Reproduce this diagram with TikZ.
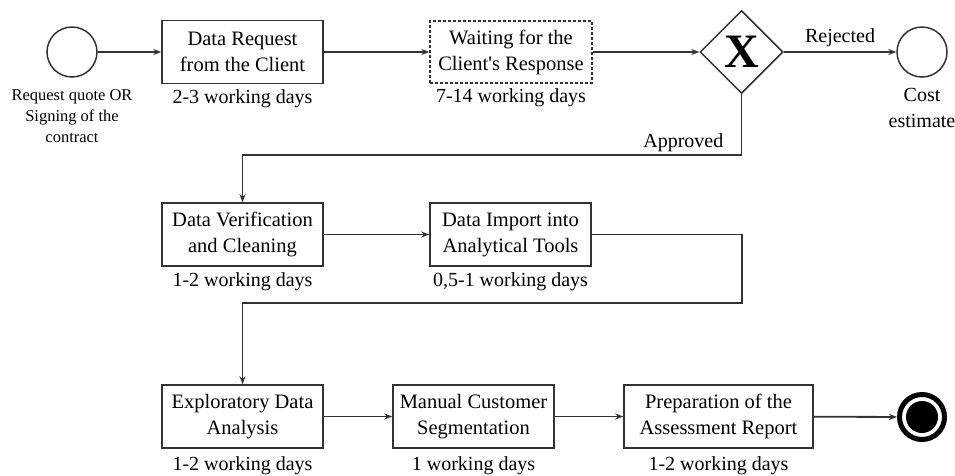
\documentclass[tikz,border=0pt]{standalone}
\usepackage{fontspec}
\setmainfont{Liberation Serif}
\usetikzlibrary{shapes.geometric,arrows.meta,positioning}
\begin{document}
\begin{tikzpicture}[x=1pt,y=-1pt,>={Stealth[length=8pt,width=6pt]}]
	\tikzstyle{task}=[rectangle,draw=black!80,line width=1.5pt,fill=white,minimum width=161pt,minimum height=63pt,inner sep=0pt,align=center,font=\fontsize{20.5}{26}\selectfont]
	\tikzstyle{waittask}=[task,dash pattern=on 3pt off 2pt]
	\tikzstyle{event}=[circle,draw=black!80,line width=1.5pt,minimum size=50pt,inner sep=0pt]
	\tikzstyle{gate}=[diamond,draw=black!80,line width=1.5pt,minimum width=83pt,minimum height=83pt,inner sep=0pt,font=\fontsize{48}{48}\selectfont\bfseries]
	\tikzstyle{dur}=[inner sep=0pt,font=\fontsize{20}{26}\selectfont]
	\tikzstyle{lbl}=[inner sep=0pt,align=center,font=\fontsize{20}{26}\selectfont]
	\tikzstyle{note}=[inner sep=0pt,align=center,font=\fontsize{16.5}{21}\selectfont]
	\tikzstyle{edge}=[draw=black!80,line width=1.8pt,->]
	\useasboundingbox (0,0) rectangle (955,475);
	\begin{scope}
	% first row
	  \node [event] (start) at (72,52) {};
	  \node [note,below=12pt of start] (startl) {Request quote OR\\Signing of the\\contract};
	  \node [task] (rq) at (242.5,52) {Data Request\\from the Client};
	  \node [dur,below=5pt of rq] (rqd) {2-3 working days};
	  \node [waittask,minimum width=162pt,minimum height=62pt] (wait) at (511,52) {Waiting for the\\Client\textquotesingle s Response};
	  \node [dur,below=5pt of wait] (waitd) {7-14 working days};
	  \node [gate] (gw) at (741.5,52) {X};
	  \node [event] (cost) at (922,52) {};
	  \node [lbl,below=10pt of cost] (costl) {Cost\\estimate};

	% second row
	  \node [task] (vc) at (242.5,234.5) {Data Verification\\and Cleaning};
	  \node [dur,below=6pt of vc] (vcd) {1-2 working days};
	  \node [task] (imp) at (510.5,234.5) {Data Import into\\Analytical Tools};
	  \node [dur,below=6pt of imp] (impd) {0,5-1 working days};

	% third row
	  \node [task] (ex) at (242.5,416.5) {Exploratory Data\\Analysis};
	  \node [dur,below=8pt of ex] (exd) {1-2 working days};
	  \node [task] (ms) at (473.5,416.5) {Manual Customer\\Segmentation};
	  \node [dur,below=8pt of ms] (msd) {1 working days};
	  \node [task,minimum width=189pt] (rep) at (718.5,416.5) {Preparation of the\\Assessment Report};
	  \node [dur,below=8pt of rep] (repd) {1-2 working days};
	  \node [circle,draw=black,line width=5pt,minimum size=45pt,inner sep=0pt] (fin) at (922,417) {};
	  \node [circle,fill=black,minimum size=32pt,inner sep=0pt] (fincore) at (fin.center) {};

	  \coordinate (ap) at (741.5,155);
	  \coordinate (turn) at (742,303);
	  \node [lbl,anchor=base east] (apl) at ([xshift=-18pt,yshift=8pt]ap) {Approved};

		\draw[edge] (start) -- (rq);
		\draw[edge] (rq) -- (wait);
		\draw[edge] (wait) -- (gw);
		\draw[edge] (gw) -- node[lbl,above=4pt]{Rejected} (cost);
		\draw[edge] (gw.south) -- (ap) -| (vc.north);
		\draw[edge] (vc) -- (imp);
		\draw[edge] (imp.east) -| (turn) -| (ex.north);
		\draw[edge] (ex) -- (ms);
		\draw[edge] (ms) -- (rep);
		\draw[edge] (rep) -- (fin);
	\end{scope}
\end{tikzpicture}
\end{document}
